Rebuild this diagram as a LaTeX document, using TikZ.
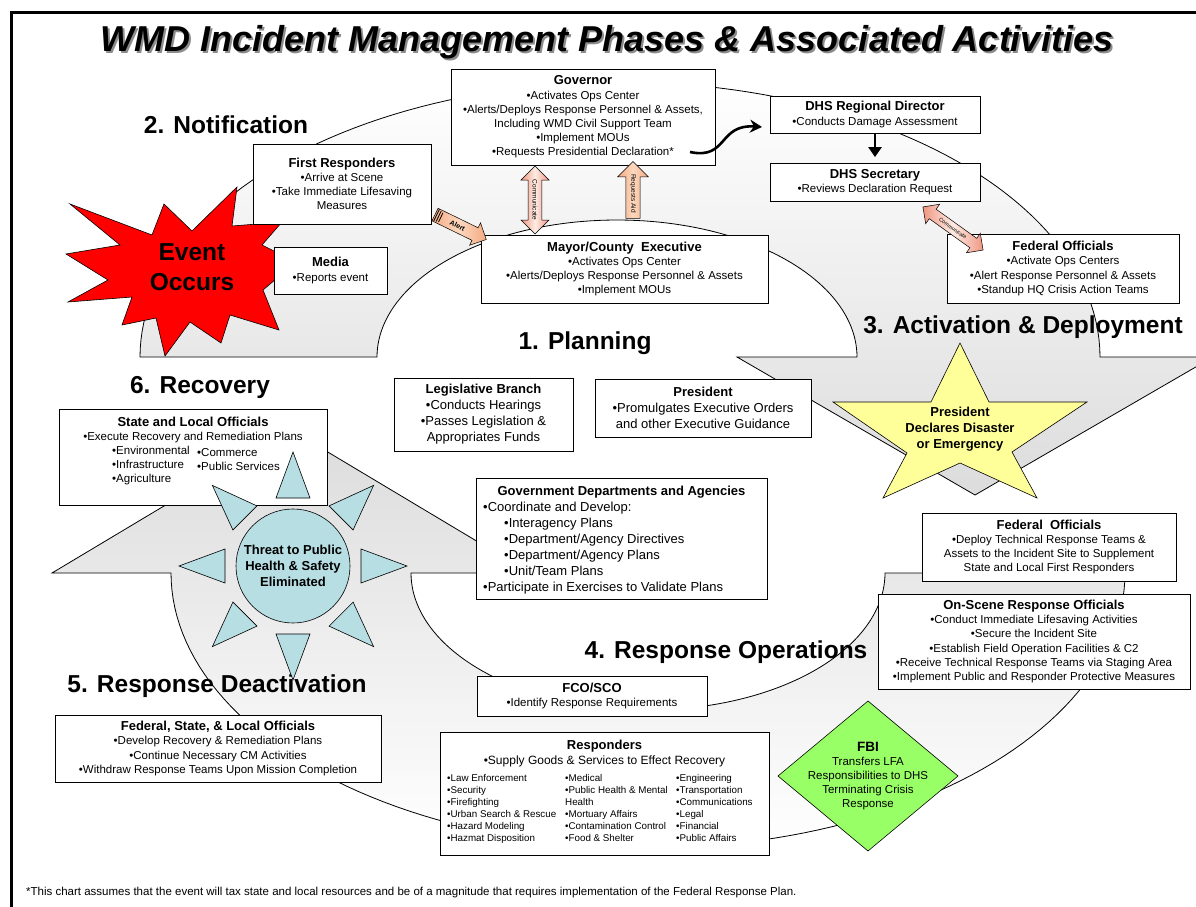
\documentclass[tikz,border=0pt]{standalone}
\usepackage{fontspec}
\setmainfont{Liberation Sans}
\usetikzlibrary{shapes.arrows,shapes.geometric,arrows.meta,calc}
\definecolor{arrowgray}{RGB}{220,220,220}
\definecolor{sunblue}{RGB}{183,222,227}
\definecolor{staryellow}{RGB}{255,255,153}
\definecolor{fbigreen}{RGB}{153,255,102}
\definecolor{salmonedge}{RGB}{240,150,130}
\definecolor{salmonmid}{RGB}{253,236,228}
\definecolor{peachedge}{RGB}{244,170,130}
\definecolor{peachmid}{RGB}{252,216,190}
\newcommand{\boxtitle}[1]{{\bfseries\fontsize{13}{14.2}\selectfont #1}}
\tikzset{
  box/.style={draw=black, fill=white, line width=0.8pt, inner sep=0pt, align=center, font=\fontsize{11.5}{14.2}\selectfont},
  bigbox/.style={box, font=\fontsize{13}{16}\selectfont},
  txt/.style={inner sep=0pt, align=center, font=\fontsize{11.5}{14.2}\selectfont},
  coltxt/.style={inner sep=0pt, align=left, anchor=north west, font=\fontsize{11.5}{14}\selectfont},
  smallcol/.style={inner sep=0pt, align=left, anchor=north west, font=\fontsize{9.8}{12}\selectfont},
  phase/.style={inner sep=0pt, font=\bfseries\fontsize{24.5}{28}\selectfont},
  bigarrow/.style={draw=black, line width=0.8pt},
  commarrow/.style={double arrow, draw=black, line width=0.5pt, left color=salmonedge, right color=salmonedge, middle color=salmonmid, inner xsep=1pt, inner ysep=3.5pt, font=\fontsize{6.5}{7}\selectfont},
  aidarrow/.style={single arrow, draw=black, line width=0.5pt, left color=peachedge, right color=peachedge, middle color=peachmid, inner xsep=1pt, inner ysep=3.5pt, font=\fontsize{6.5}{7}\selectfont},
  thick arrow/.style={line width=2.6pt}
}
\begin{document}
\begin{tikzpicture}[x=1pt,y=-1pt]
\useasboundingbox (0,0) rectangle (1196,907);
\fill[white] (0,0) rectangle (1196,907);
% frame
\draw[line width=3pt] (11.5,907) -- (11.5,12.5) -- (1196,12.5);
% title
\node[font=\bfseries\itshape\fontsize{36}{40}\selectfont, text=black!45, inner sep=0pt] (titleshadow) at (609,44) {WMD Incident Management Phases \& Associated Activities};
\node[font=\bfseries\itshape\fontsize{36}{40}\selectfont, inner sep=0pt] (title) at (607,42) {WMD Incident Management Phases \& Associated Activities};

% upper big circular arrow
\shade[bigarrow, top color=white, bottom color=arrowgray]
  plot[domain=180:360, samples=100] ({620+480*cos(\x)},{357+275*sin(\x)})
  -- (1213,357) -- (975,495) -- (737,357) -- (857,357)
  -- plot[domain=360:180, samples=100] ({617+240*cos(\x)},{357+137*sin(\x)})
  -- cycle;
% lower big circular arrow
\shade[bigarrow, top color=arrowgray, bottom color=white]
  plot[domain=0:180, samples=100] ({648+477*cos(\x)},{573+275*sin(\x)})
  -- (52,573) -- (291,430) -- (530,573) -- (411,573)
  -- plot[domain=180:0, samples=100] ({648+237*cos(\x)},{573+137*sin(\x)})
  -- cycle;

% phase labels
\node[phase] (ph2) at (226,125) {2. Notification};
\node[phase] (ph1) at (585,343) {1. Planning};
\node[phase] (ph3) at (1023,327) {3. Activation \& Deployment};
\node[phase] (ph6) at (200,387) {6. Recovery};
\node[phase] (ph5) at (217,686) {5. Response Deactivation};
\node[phase] (ph4) at (726,652) {4. Response Operations};

% event star
\filldraw[fill=red, draw=black, line width=0.6pt]
 (70,204) -- (152,235) -- (164,204) -- (192,231) -- (237,187) -- (232,226) -- (282,222) -- (262,245)
 -- (296,262) -- (263,290) -- (279,330) -- (230,315) -- (221,343) -- (190,322) -- (165,356) -- (156,318)
 -- (122,325) -- (132,297) -- (68,302) -- (108,280) -- (66,254) -- (120,245) -- cycle;
\node[txt, font=\bfseries\fontsize{24.5}{30}\selectfont] (event) at (192,267) {Event\\Occurs};

% notification boxes
\node[box, minimum width=178pt, minimum height=80pt] (fr) at (342,184) {\boxtitle{First Responders}\\•Arrive at Scene\\•Take Immediate Lifesaving\\Measures};
\node[box, minimum width=113pt, minimum height=47pt] (media) at (330.5,270.5) {\boxtitle{Media}\\•Reports event};
\node[box, minimum width=264pt, minimum height=96pt] (gov) at (583,117) {\boxtitle{Governor}\\•Activates Ops Center\\•Alerts/Deploys Response Personnel \& Assets,\\Including WMD Civil Support Team\\•Implement MOUs\\•Requests Presidential Declaration*};
\node[box, minimum width=287pt, minimum height=68pt] (mayor) at (624.5,269) {\boxtitle{Mayor/County\ \ Executive}\\•Activates Ops Center\\•Alerts/Deploys Response Personnel \& Assets\\•Implement MOUs};
\node[box, minimum width=210pt, minimum height=37pt] (dhsr) at (875,114.5) {\boxtitle{DHS Regional Director}\\•Conducts Damage Assessment};
\node[box, minimum width=210pt, minimum height=38pt] (dhss) at (875,182.5) {\boxtitle{DHS Secretary}\\•Reviews Declaration Request};
\node[box, minimum width=232pt, minimum height=69pt] (fedtop) at (1063,268.5) {\boxtitle{Federal Officials}\\•Activate Ops Centers\\•Alert Response Personnel \& Assets\\•Standup HQ Crisis Action Teams};

% connectors
\node[aidarrow, minimum height=57pt, minimum width=25pt, single arrow head extend=5pt, rotate=-26, font=\bfseries\fontsize{7}{7}\selectfont] (alert) at (457.5,225.5) {Alert};
\foreach \k in {2,4.5,7}
  \draw[line width=0.8pt] ($(alert.before tail)!\k pt!(alert.before head)$) -- ($(alert.after tail)!\k pt!(alert.after head)$);
\node[commarrow, minimum height=68pt, minimum width=28pt, double arrow head extend=6.5pt, rotate=-90] (comm1) at (535,200) {Communicate};
\node[aidarrow, minimum height=57pt, minimum width=31pt, single arrow head extend=8pt, shape border rotate=180, rotate=-90] (reqaid) at (633,193.5) {Requests Aid};
\node[commarrow, minimum height=74pt, minimum width=24pt, double arrow head extend=6pt, rotate=-35.6, font=\fontsize{5.3}{6}\selectfont] (comm2) at (953,228.5) {Communicate};
\coordinate (curvestart) at (690,152);
\coordinate (curveend) at (762,127);
\draw[thick arrow, -{Stealth[length=12pt,width=13pt]}] (curvestart) .. controls (728,160) and (718,124) .. (curveend);
\draw[thick arrow, -{Triangle[length=10pt,width=13pt]}] (dhsr.south) -- ([yshift=6pt]dhss.north);

% planning boxes
\node[bigbox, minimum width=179pt, minimum height=73pt] (leg) at (483.5,414.5) {\textbf{Legislative Branch}\\•Conducts Hearings\\•Passes Legislation \&\\Appropriates Funds};
\node[bigbox, minimum width=216pt, minimum height=58pt] (pres) at (703,408) {\textbf{President}\\•Promulgates Executive Orders\\and other Executive Guidance};
\node[box, minimum width=291pt, minimum height=121pt] (gda) at (621.5,538.5) {};
\node[txt, font=\bfseries\fontsize{13}{16}\selectfont] (gdatitle) at (621.5,492) {Government Departments and Agencies};
\node[coltxt, font=\fontsize{13}{16}\selectfont] (gdabody) at (483,501.5) {•Coordinate and Develop:\\\hspace*{21pt}•Interagency Plans\\\hspace*{21pt}•Department/Agency Directives\\\hspace*{21pt}•Department/Agency Plans\\\hspace*{21pt}•Unit/Team Plans\\•Participate in Exercises to Validate Plans};

% president star
\filldraw[fill=staryellow, draw=black, line width=0.6pt]
 (960,343) -- (989,402) -- (1087,402) -- (1012,452) -- (1037,498) -- (960,463) -- (883,498) -- (907,453) -- (833,402) -- (931,402) -- cycle;
\node[txt, font=\bfseries\fontsize{13}{16}\selectfont] (prestar) at (960,429) {President\\Declares Disaster\\or Emergency};

% recovery
\node[box, minimum width=268pt, minimum height=96pt] (slo) at (193,457) {};
\node[txt] (slotxt) at (193,430) {\boxtitle{State and Local Officials}\\•Execute Recovery and Remediation Plans};
\node[coltxt] (slocol1) at (112,446) {•Environmental\\•Infrastructure\\•Agriculture};
\node[coltxt] (slocol2) at (197,448) {•Commerce\\•Public Services};

% sun
\foreach \a in {0,45,...,315}
  \filldraw[fill=sunblue, draw=black, line width=0.6pt]
   ({293+114*cos(\a)},{566+114*sin(\a)}) -- ({293+68*cos(\a)-17*sin(\a)},{566+68*sin(\a)+17*cos(\a)}) -- ({293+68*cos(\a)+17*sin(\a)},{566+68*sin(\a)-17*cos(\a)}) -- cycle;
\node[circle, draw=black, line width=0.6pt, fill=sunblue, minimum size=114pt, inner sep=0pt, align=center, font=\bfseries\fontsize{13}{16}\selectfont] (sun) at (293,566) {Threat to Public\\Health \& Safety\\Eliminated};

% activation / response boxes
\node[box, minimum width=254pt, minimum height=68pt] (fedlow) at (1049,547) {\boxtitle{Federal\ \ Officials}\\•Deploy Technical Response Teams \&\\Assets to the Incident Site to Supplement\\State and Local First Responders};
\node[box, minimum width=312pt, minimum height=95pt] (onscene) at (1034,641.5) {\boxtitle{On-Scene Response Officials}\\•Conduct Immediate Lifesaving Activities\\•Secure the Incident Site\\•Establish Field Operation Facilities \& C2\\•Receive Technical Response Teams via Staging Area\\•Implement Public and Responder Protective Measures};
\node[box, minimum width=230pt, minimum height=40pt] (fco) at (592,696) {{\bfseries\fontsize{13}{16}\selectfont FCO/SCO}\\•Identify Response Requirements};

% deactivation
\node[box, minimum width=326pt, minimum height=67pt] (fsl) at (218,748.5) {\boxtitle{Federal, State, \& Local Officials}\\•Develop Recovery \& Remediation Plans\\•Continue Necessary CM Activities\\•Withdraw Response Teams Upon Mission Completion};

% responders
\node[box, minimum width=329pt, minimum height=123pt] (resp) at (604.5,793.5) {};
\node[txt, font=\fontsize{12}{15}\selectfont] (resptxt) at (604.5,753.5) {{\bfseries\fontsize{13}{15}\selectfont Responders}\\•Supply Goods \& Services to Effect Recovery};
\node[smallcol] (respc1) at (447,774.5) {•Law Enforcement\\•Security\\•Firefighting\\•Urban Search \& Rescue\\•Hazard Modeling\\•Hazmat Disposition};
\node[smallcol] (respc2) at (565,774.5) {•Medical\\•Public Health \& Mental\\Health\\•Mortuary Affairs\\•Contamination Control\\•Food \& Shelter};
\node[smallcol] (respc3) at (676,774.5) {•Engineering\\•Transportation\\•Communications\\•Legal\\•Financial\\•Public Affairs};

% FBI diamond
\filldraw[fill=fbigreen, draw=black, line width=0.6pt] (868,701) -- (958,776) -- (868,851) -- (778,776) -- cycle;
\node[txt] (fbi) at (868,776) {{\bfseries\fontsize{13.5}{15}\selectfont FBI}\\Transfers LFA\\Responsibilities to DHS\\Terminating Crisis\\Response};

% footnote
\node[inner sep=0pt, anchor=west, font=\fontsize{11.5}{13}\selectfont] (foot) at (26,893) {*This chart assumes that the event will tax state and local resources and be of a magnitude that requires implementation of the Federal Response Plan.};
\end{tikzpicture}
\end{document}
